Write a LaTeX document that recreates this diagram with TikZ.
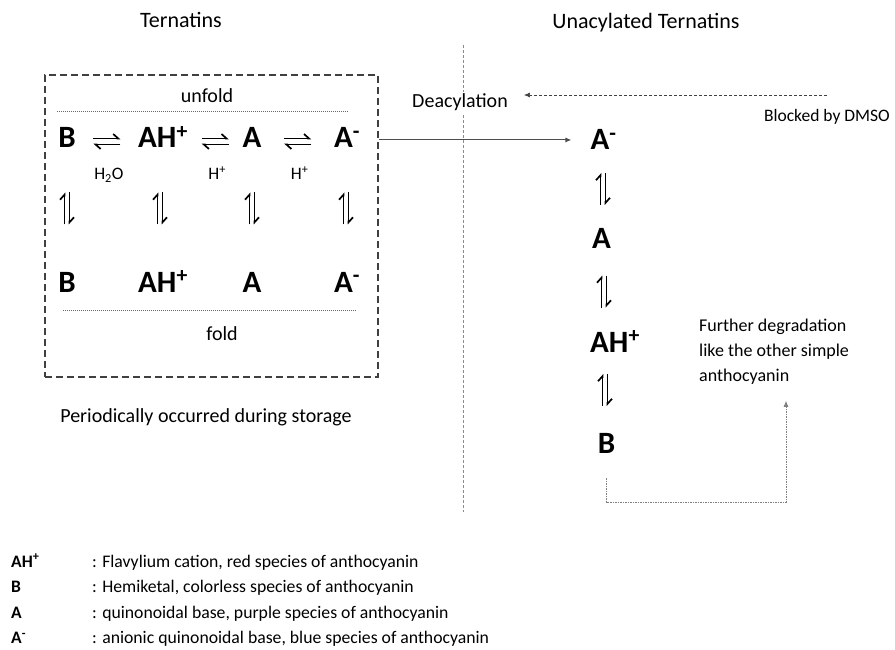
\documentclass[tikz,border=0pt]{standalone}
\usepackage{fontspec}
\setmainfont{Carlito}
\usetikzlibrary{calc}
\usetikzlibrary{positioning}
\usetikzlibrary{arrows.meta}

\tikzset{
  species/.style={font=\fontsize{31}{31}\selectfont\bfseries, inner sep=1pt, anchor=base},
  lbl/.style={font=\fontsize{20}{25}\selectfont, inner sep=0pt},
  small/.style={font=\fontsize{17.5}{20}\selectfont, inner sep=0pt},
  title/.style={font=\fontsize{22}{26}\selectfont, inner sep=0pt, anchor=base},
  legkey/.style={font=\fontsize{17.5}{20}\selectfont\bfseries, inner sep=0pt, anchor=base west},
  legtext/.style={font=\fontsize{17.7}{20}\selectfont, inner sep=0pt, anchor=base west},
  harp/.style={line width=1.7pt, -{Straight Barb[harpoon, length=5pt, width=9pt]}},
  boxline/.style={draw=black!75, line width=1.2pt, dash pattern=on 7pt off 4pt},
  sepline/.style={draw=black!45, line width=0.7pt, dash pattern=on 3pt off 2pt},
  foldline/.style={draw=black!60, line width=0.5pt, dash pattern=on 1pt off 1pt},
  flow/.style={draw=black!70, line width=0.9pt, -{Latex[length=6pt,width=5pt]}},
  blocked/.style={draw=black!75, line width=0.7pt, dash pattern=on 3pt off 2pt, -{Latex[length=6pt,width=5pt]}},
  further/.style={draw=black!50, line width=0.8pt, dash pattern=on 1.5pt off 1pt, -{Latex[length=6pt,width=5pt]}},
}

% equilibrium harpoons round a named coordinate
\newcommand{\eqhor}[1]{%
  \draw[harp] ($(#1)+(-13.5,-3)$) -- ++(27,0);
  \draw[harp] ($(#1)+(13.5,3)$) -- ++(-27,0);
}
\newcommand{\eqver}[1]{%
  \draw[harp] ($(#1)+(-2.5,16)$) -- ++(0,-32);
  \draw[harp] ($(#1)+(2.5,-16)$) -- ++(0,32);
}

\begin{document}
\begin{tikzpicture}[x=1pt,y=-1pt]
  \useasboundingbox (0,0) rectangle (895,650);

  % titles
  \node[title] (tern) at (181,28) {Ternatins};
  \node[title] (unac) at (646,29) {Unacylated Ternatins};
  \draw[sepline] (463,45) -- (463,512);

  % folding box
  \node[boxline, inner sep=0pt, minimum width=333pt, minimum height=302pt] (box) at (211.5,226) {};
  \node[lbl, anchor=base] (unfold) at (207,103) {unfold};
  \node[lbl, anchor=base] (fold) at (222,340) {fold};
  \draw[foldline] (57,111.5) -- (348,111.5);
  \draw[foldline] (63,310.5) -- (356,310.5);

  \foreach \x/\t [count=\i] in {67/B, 163/{AH\textsuperscript{+}}, 252/A, 347/{A\textsuperscript{-}}} {
    \node[species] (u\i) at (\x,148) {\t};
    \node[species] (f\i) at (\x,292) {\t};
  }

  \foreach \a/\b/\w in {1/2/{H\textsubscript{2}O}, 2/3/{H\textsuperscript{+}}, 3/4/{H\textsuperscript{+}}} {
    \coordinate (e\a) at ($(u\a.base east)!0.5!(u\b.base west)$);
    \coordinate (h\a) at ($(e\a)+(0,-6.5)$);
    \eqhor{h\a}
    \node[small, anchor=base] (w\a) at ($(e\a)+(2,32)$) {\w};
  }

  \foreach \i/\dx in {1/0, 2/-3, 3/0, 4/-1} {
    \coordinate (v\i) at ($(u\i.base)!0.5!(f\i.base)+(\dx,-11.5)$);
    \eqver{v\i}
  }

  \node[lbl, anchor=base] (period) at (206,422) {Periodically occurred during storage};

  % deacylation
  \node[lbl, anchor=base, fill=white, inner sep=2pt] (deac) at (460,108) {Deacylation};
  \node[small, anchor=base east] (dmso) at (890,122) {Blocked by DMSO};
  \coordinate (dmsotail) at (827,95);
  \draw[blocked, shorten >=14pt] (dmsotail) -- (dmsotail -| deac.east);

  % unacylated column
  \node[species] (r1) at (603.5,150) {A\textsuperscript{-}};
  \node[species] (r2) at (601.5,248) {A};
  \node[species] (r3) at (615,352) {AH\textsuperscript{+}};
  \node[species] (r4) at (606.5,453) {B};
  \foreach \y [count=\i] in {189,291.5,390} {
    \coordinate (q\i) at (603+\i-1,\y);
    \eqver{q\i}
  }

  \draw[flow, shorten >=18pt] (r1.west -| box.east) -- (r1.west);

  \node[lbl, align=left, anchor=north west, font=\fontsize{18}{25}\selectfont] (degr) at (699,319)
    {Further degradation\\like the other simple\\anthocyanin};
  \coordinate (turn) at (786,502);
  \draw[further, shorten >=16pt] (r4.south) ++(0,24) |- (turn) -- (turn |- degr.south);

  % legend
  \foreach \k/\d [count=\i] in {{AH\textsuperscript{+}}/{Flavylium cation, red species of anthocyanin},
      B/{Hemiketal, colorless species of anthocyanin},
      A/{quinonoidal base, purple species of anthocyanin},
      {A\textsuperscript{-}}/{anionic quinonoidal base, blue species of anthocyanin}} {
    \node[legkey] (k\i) at (11,{567+25.6*(\i-1)}) {\k};
    \node[legtext] (d\i) at (92,{567+25.6*(\i-1)}) {: \d};
  }
\end{tikzpicture}
\end{document}
